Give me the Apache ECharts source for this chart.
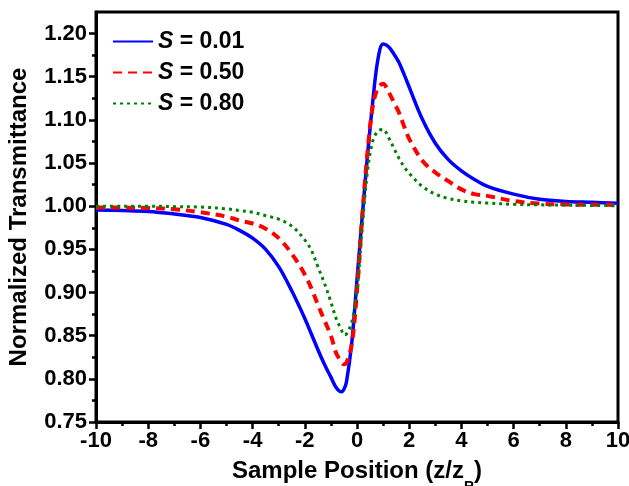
<!DOCTYPE html>
<html>
<head>
<meta charset="utf-8">
<script src="https://cdn.jsdelivr.net/npm/echarts@6/dist/echarts.min.js"></script>
<style>
html,body{margin:0;padding:0;background:#fff;}
#chart{width:629px;height:486px;}
</style>
</head>
<body>
<div id="chart"></div>
<script>
// Sample positions (z/zR)
const zValues = [-10,-9,-8,-7,-6,-5,-4.5,-4,-3.5,-3,-2.5,-2,-1.75,-1.5,-1.25,-1,-0.8,-0.6,-0.5,-0.4,-0.2,0,0.2,0.4,0.6,0.8,1.0,1.2,1.4,1.6,1.8,2,2.5,3,3.5,4,4.5,5,6,7,8,9,10];
// Normalized transmittance, S = 0.01
const s001 = [0.9956,0.995,0.994,0.991,0.987,0.979,0.972,0.963,0.950,0.930,0.902,0.870,0.852,0.834,0.817,0.802,0.790,0.785,0.788,0.797,0.842,0.915,0.988,1.058,1.120,1.170,1.188,1.185,1.177,1.167,1.153,1.138,1.101,1.073,1.054,1.041,1.031,1.023,1.014,1.008,1.0055,1.0045,1.0035];
// S = 0.50
const s050 = [0.9986,0.9984,0.998,0.9965,0.993,0.988,0.9835,0.980,0.974,0.963,0.945,0.921,0.905,0.886,0.868,0.850,0.830,0.820,0.817,0.819,0.840,0.902,0.988,1.062,1.115,1.137,1.142,1.133,1.121,1.109,1.093,1.078,1.053,1.039,1.029,1.0195,1.014,1.012,1.006,1.003,1.002,1.0017,1.0015];
// S = 0.80
const s080 = [1.0,1.0,1.0,0.9995,0.999,0.997,0.995,0.993,0.989,0.985,0.977,0.961,0.949,0.930,0.911,0.889,0.870,0.857,0.851,0.852,0.866,0.902,0.975,1.040,1.075,1.087,1.089,1.080,1.068,1.056,1.046,1.038,1.023,1.014,1.009,1.0062,1.0046,1.0036,1.0022,1.0016,1.0013,1.0009,1.0006];
const seriesNames = ['S = 0.01','S = 0.50','S = 0.80'];
const yMajorTicks = [0.75,0.80,0.85,0.90,0.95,1.00,1.05,1.10,1.15,1.20];
const yMinorTicks = [0.775,0.825,0.875,0.925,0.975,1.025,1.075,1.125,1.175];

const pair = arr => zValues.map((z,i)=>[z,arr[i]]);
const FONT = '"Liberation Sans", Arial, sans-serif';

const chart = echarts.init(document.getElementById('chart'), null, {renderer:'canvas'});
const yBase = {
  type:'value', min:0.75, max:1.225, position:'left',
  splitLine:{show:false}
};
chart.setOption({
  animation:false,
  backgroundColor:'#fff',
  grid:{left:96, right:11, top:12, bottom:64, show:true, borderColor:'#000', borderWidth:3, containLabel:false, outerBoundsMode:'none'},
  legend:{
    orient:'vertical', left:107, top:25, itemWidth:40, itemHeight:14, itemGap:8,
    data:seriesNames,
    itemStyle:{opacity:0, borderWidth:0},
    formatter: n => '{i|S}{t|' + n.slice(1) + '}',
    textStyle:{
      color:'#000', fontFamily:FONT, fontSize:23, fontWeight:'bold',
      rich:{
        i:{fontStyle:'italic', fontWeight:'bold', fontSize:23, fontFamily:FONT, color:'#000'},
        t:{fontWeight:'bold', fontSize:23, fontFamily:FONT, color:'#000'}
      }
    }
  },
  xAxis:{
    type:'value', min:-10, max:10, interval:2,
    name:'{a|Sample Position (z/z}{s|R}{a|)}',
    nameLocation:'middle', nameGap:37,
    nameTextStyle:{
      rich:{
        a:{fontFamily:FONT, fontSize:24, fontWeight:'bold', color:'#000', verticalAlign:'top', lineHeight:28},
        s:{fontFamily:FONT, fontSize:14, fontWeight:'bold', color:'#000', verticalAlign:'top', lineHeight:14, padding:[21,0,0,0]}
      }
    },
    axisLine:{show:true, onZero:false, lineStyle:{color:'#000', width:3}},
    axisTick:{show:true, inside:false, length:7, lineStyle:{color:'#000', width:2.5}},
    minorTick:{show:true, splitNumber:2, length:4, lineStyle:{color:'#000', width:2.5}},
    axisLabel:{color:'#000', fontFamily:FONT, fontSize:22, fontWeight:'bold', margin:8},
    splitLine:{show:false}
  },
  yAxis:[
    Object.assign({}, yBase, {
      name:'Normalized Transmittance', nameLocation:'middle', nameGap:65,
      nameTextStyle:{fontFamily:FONT, fontSize:24, fontWeight:'bold', color:'#000'},
      axisLine:{show:true, onZero:false, lineStyle:{color:'#000', width:3}},
      axisTick:{show:true, inside:false, length:7, customValues:yMajorTicks, lineStyle:{color:'#000', width:2.5}},
      axisLabel:{color:'#000', fontFamily:FONT, fontSize:22, fontWeight:'bold', margin:9, customValues:yMajorTicks, formatter:v=>v.toFixed(2)}
    }),
    Object.assign({}, yBase, {
      axisLine:{show:false, onZero:false},
      axisTick:{show:true, inside:false, length:4, customValues:yMinorTicks, lineStyle:{color:'#000', width:2.5}},
      axisLabel:{show:false}
    })
  ],
  series:[
    {name:seriesNames[0], type:'line', data:pair(s001), smooth:0.35, showSymbol:false, symbol:'none', yAxisIndex:0,
     lineStyle:{color:'#0000ff', width:3.5, type:'solid'}, itemStyle:{color:'#0000ff'}},
    {name:seriesNames[1], type:'line', data:pair(s050), smooth:0.35, showSymbol:false, symbol:'none', yAxisIndex:0,
     lineStyle:{color:'#ff0000', width:4, type:[9,6]}, itemStyle:{color:'#ff0000'}},
    {name:seriesNames[2], type:'line', data:pair(s080), smooth:0.35, showSymbol:false, symbol:'none', yAxisIndex:0,
     lineStyle:{color:'#008000', width:3, type:[3,4]}, itemStyle:{color:'#008000'}}
  ]
});
</script>
</body>
</html>
